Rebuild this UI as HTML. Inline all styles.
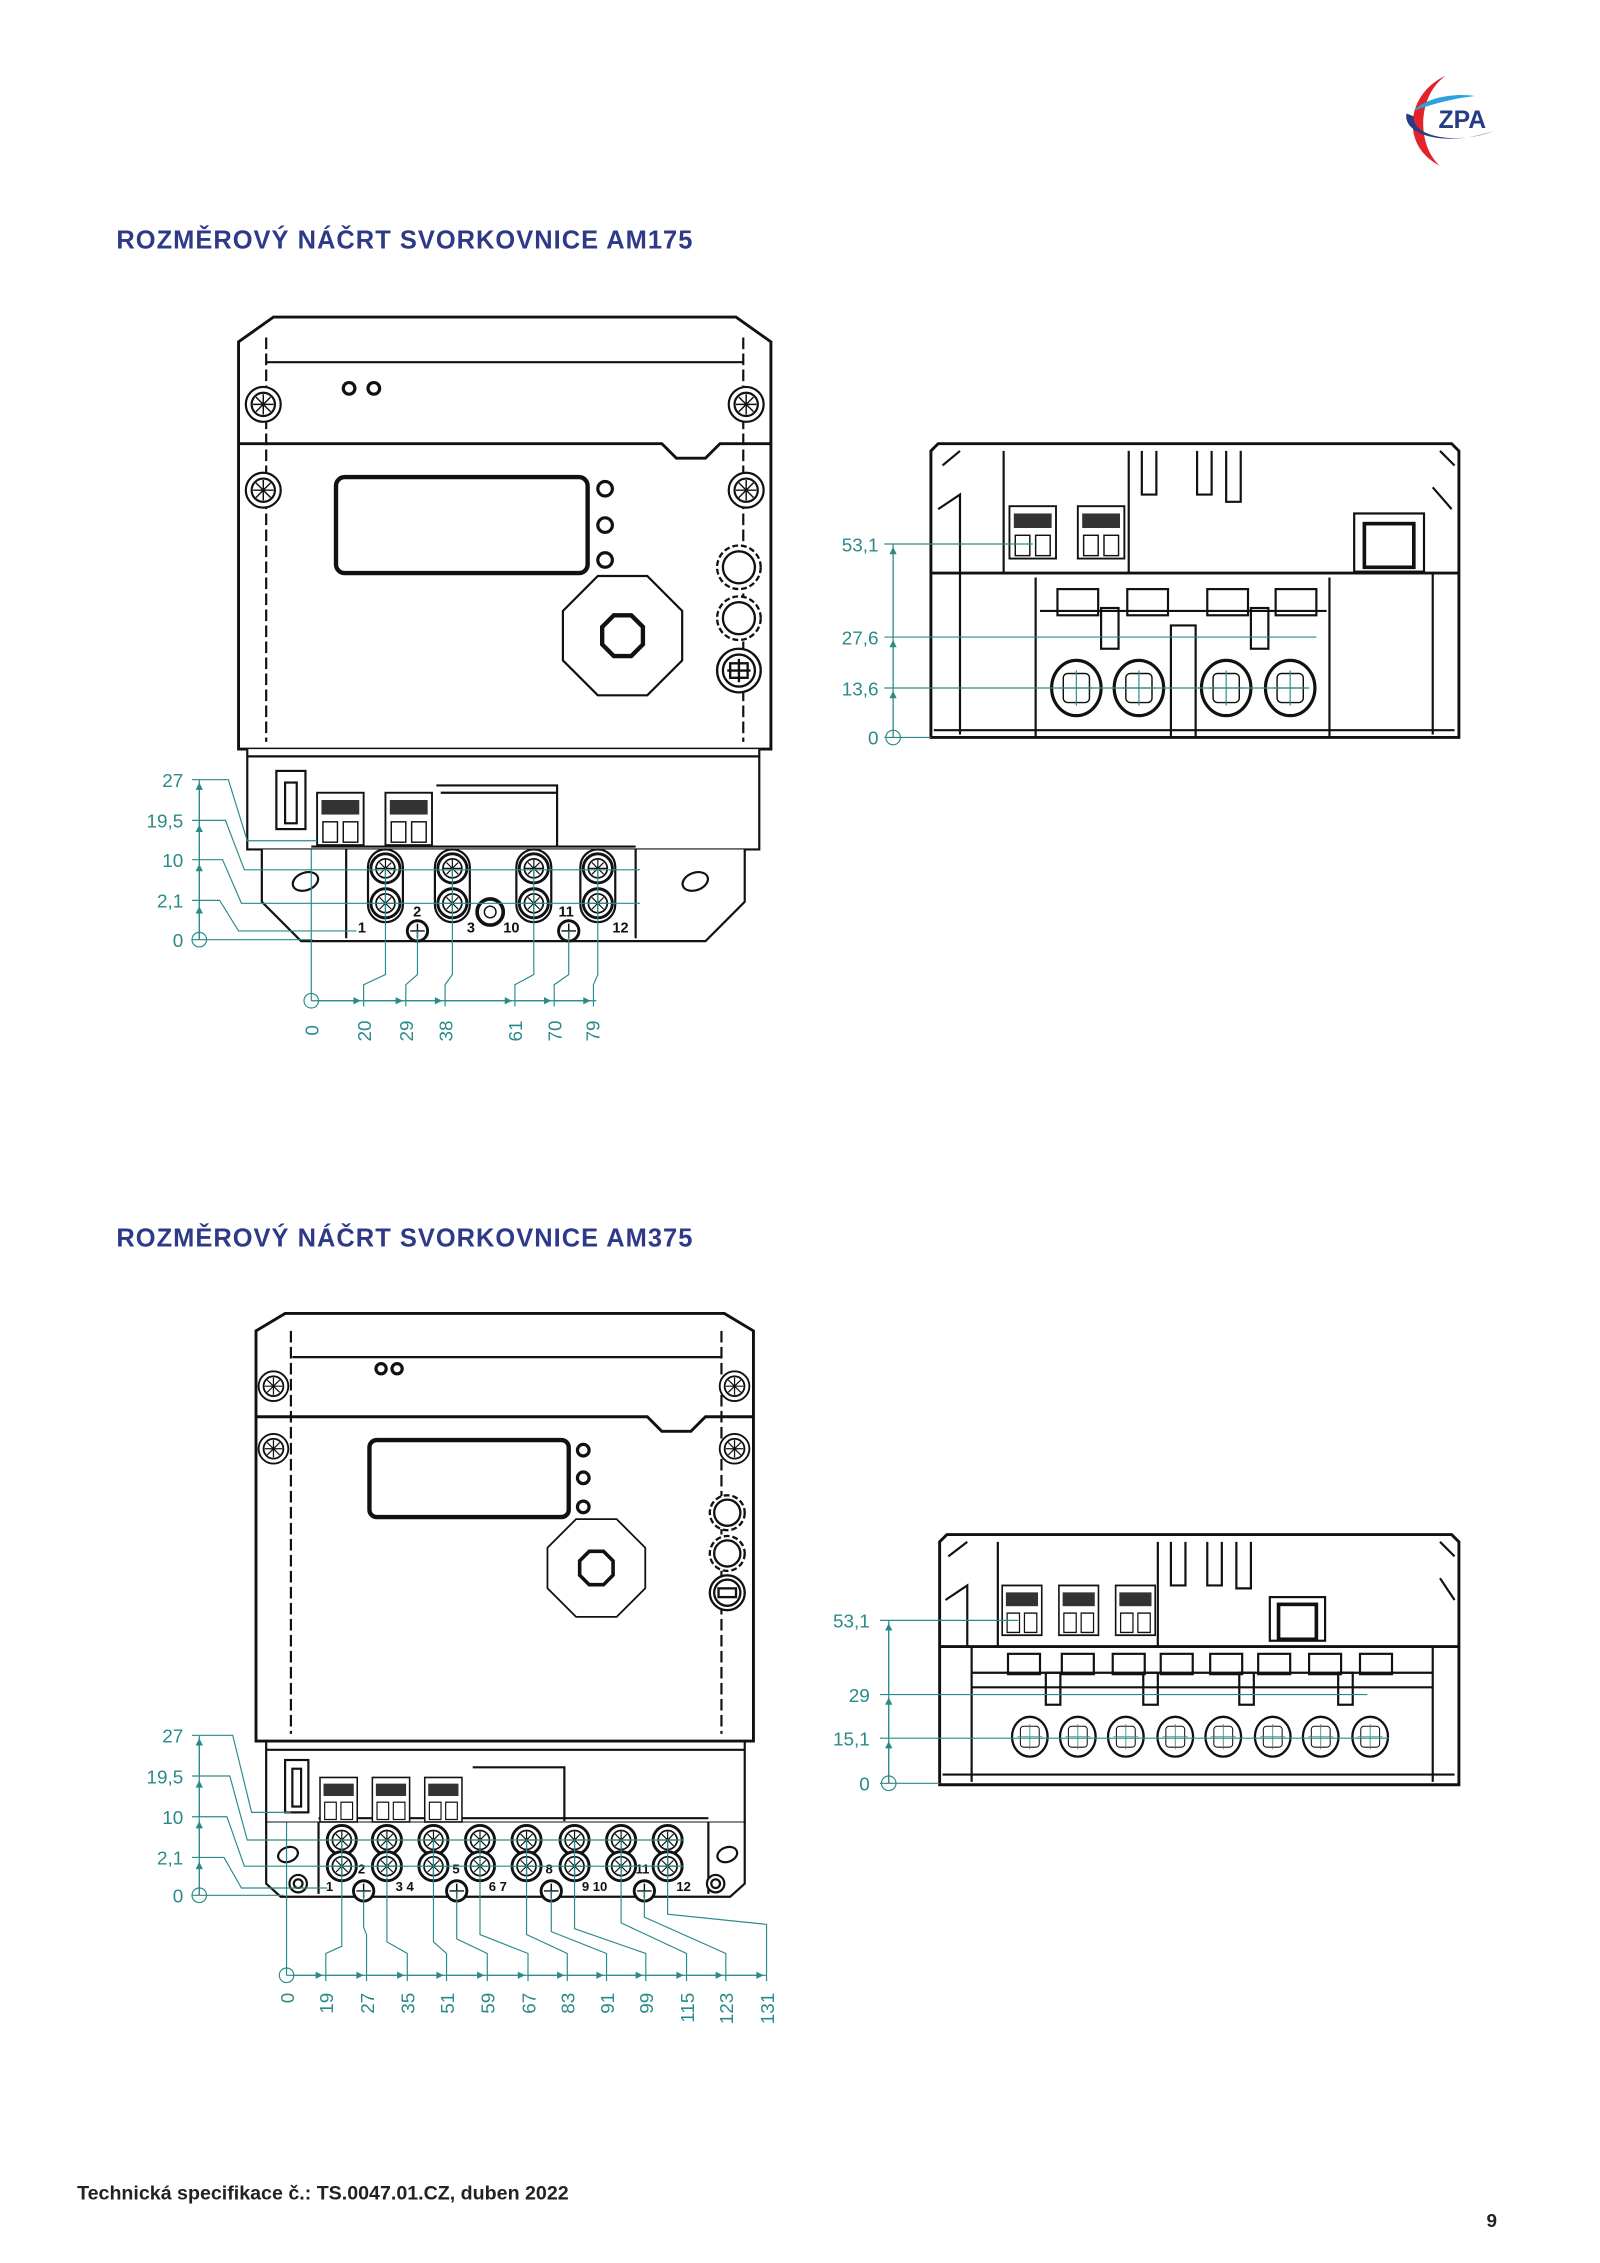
<!DOCTYPE html>
<html><head><meta charset="utf-8"><style>
html,body{margin:0;padding:0;background:#fff;}
svg{display:block;}
</style></head><body>
<svg width="1600" height="2263" viewBox="0 0 1100 1555.8" xmlns="http://www.w3.org/2000/svg" font-family="Liberation Sans, sans-serif">
<defs>
<marker id="ar" viewBox="0 0 10 10" refX="10" refY="5" markerWidth="7" markerHeight="5" orient="auto-start-reverse" markerUnits="userSpaceOnUse"><path d="M0,0L10,5L0,10z" fill="#2a8a8a"/></marker>
<g id="scr"><circle r="12" fill="#fff" stroke="#111" stroke-width="1.5"/><circle r="8" fill="none" stroke="#111" stroke-width="1.5"/><path d="M-7,0H7M0,-7V7M-5,-5L5,5M-5,5L5,-5" stroke="#111" stroke-width="1"/></g>
<g id="term"><circle r="10" fill="#fff" stroke="#111" stroke-width="2"/><circle r="6.5" fill="none" stroke="#111" stroke-width="1.2"/><path d="M-6,0H6M0,-6V6M-4,-4L4,4M-4,4L4,-4" stroke="#111" stroke-width="0.8"/></g>
<g id="sterm"><circle r="7" fill="#fff" stroke="#111" stroke-width="2"/><path d="M-5,0H5M0,-5V5" stroke="#111" stroke-width="1"/></g>
<g id="oct"><polygon points="-17,-41 17,-41 41,-17 41,17 17,41 -17,41 -41,17 -41,-17" fill="#fff" stroke="#111" stroke-width="1.5"/><polygon points="-6,-14 6,-14 14,-6 14,6 6,14 -6,14 -14,6 -14,-6" fill="none" stroke="#111" stroke-width="3"/></g>
<g id="conn"><rect x="0" y="0" width="32" height="36" fill="#fff" stroke="#111" stroke-width="1.3"/><rect x="3" y="5" width="26" height="10" fill="#333"/><rect x="4" y="20" width="10" height="14" fill="none" stroke="#111"/><rect x="18" y="20" width="10" height="14" fill="none" stroke="#111"/></g>
<g id="hole"><ellipse rx="17" ry="19" fill="#fff" stroke="#111" stroke-width="2.2"/><rect x="-9" y="-10" width="18" height="20" rx="3" fill="none" stroke="#111"/><path d="M-12,0H12M0,-12V12" stroke="#2a8a8a" stroke-width="0.8"/></g>
</defs>

<!-- Logo -->
<g transform="translate(992,82)">
<path d="M2,-30 C-25,-18 -30,18 -2,32 C-18,18 -18,-16 2,-30Z" fill="#e2232a"/>
<path d="M-25,-4 C-28,10 0,20 35,8 C10,18 -22,12 -20,-2Z" fill="#263c86"/>
<path d="M-20,-6 C-10,-16 10,-18 22,-16 C5,-14 -8,-10 -20,-6Z" fill="#2aa3dd"/>
<text x="-3" y="6" font-size="17" font-weight="bold" fill="#263c86">ZPA</text>
</g>

<text x="80" y="171" font-size="17.5" font-weight="bold" fill="#2e3a87" textLength="396">ROZMĚROVÝ NÁČRT SVORKOVNICE AM175</text>
<text x="80" y="857" font-size="17.5" font-weight="bold" fill="#2e3a87" textLength="396">ROZMĚROVÝ NÁČRT SVORKOVNICE AM375</text>

<!-- ===== Top meter AM175 ===== -->
<g stroke="#111" fill="none" stroke-width="1.5">
<path d="M164,235 L188,218 L506,218 L530,235 L530,515 L164,515 Z" fill="#fff" stroke-width="2"/>
<path d="M183,249 H511"/><path d="M164,305 H455 L465,315 H485 L495,305 H530" stroke-width="2"/>
<path d="M183,232 V510 M511,232 V510" stroke-dasharray="8,3"/>
<rect x="231" y="328" width="173" height="66" rx="6" stroke-width="3"/>
<path d="M170,515 V584 H522 V515" fill="#fff"/>
<path d="M170,520 H522"/>
<path d="M180,584 V620 L207,647 H485 L512,620 V584" fill="#fff"/>
<path d="M238,584 V645 M437,584 V645"/>
<rect x="190" y="530" width="20" height="40"/>
<rect x="196" y="538" width="8" height="28"/>
<path d="M300,540 H383 V582 M303,545 H383"/>
<path d="M214,582 H437"/>
</g>
<g stroke="#111" fill="#fff" stroke-width="2.2">
<circle cx="240" cy="267" r="4"/><circle cx="257" cy="267" r="4"/>
<circle cx="416" cy="336" r="5"/><circle cx="416" cy="361" r="5"/><circle cx="416" cy="385" r="5"/>
</g>
<use href="#scr" x="181" y="278"/><use href="#scr" x="513" y="278"/><use href="#scr" x="181" y="337"/><use href="#scr" x="513" y="337"/>
<use href="#oct" x="428" y="437"/>
<g fill="#fff" stroke="#111" stroke-width="1.6"><circle cx="508" cy="390" r="15" stroke-dasharray="4,2"/><circle cx="508" cy="390" r="11"/><circle cx="508" cy="425" r="15" stroke-dasharray="4,2"/><circle cx="508" cy="425" r="11"/><circle cx="508" cy="461" r="15"/><circle cx="508" cy="461" r="11"/><path d="M500,461H516M508,453V469M502,456H514V466H502Z" fill="none"/></g>
<use href="#conn" x="218" y="545"/><use href="#conn" x="265" y="545"/>
<g fill="#fff" stroke="#111" stroke-width="1.5"><ellipse cx="210" cy="606" rx="9" ry="6" transform="rotate(-20 210 606)"/><ellipse cx="478" cy="606" rx="9" ry="6" transform="rotate(-20 478 606)"/></g>
<g fill="none" stroke="#111" stroke-width="1.5"><rect x="253" y="584" width="24" height="50" rx="12"/><rect x="299" y="584" width="24" height="50" rx="12"/><rect x="355" y="584" width="24" height="50" rx="12"/><rect x="399" y="584" width="24" height="50" rx="12"/></g>
<use href="#term" x="265" y="597"/><use href="#term" x="265" y="621"/>
<use href="#term" x="311" y="597"/><use href="#term" x="311" y="621"/>
<use href="#term" x="367" y="597"/><use href="#term" x="367" y="621"/>
<use href="#term" x="411" y="597"/><use href="#term" x="411" y="621"/>
<use href="#sterm" x="287" y="640"/><use href="#sterm" x="391" y="640"/>
<circle cx="337" cy="627" r="9" fill="#fff" stroke="#111" stroke-width="2.5"/><circle cx="337" cy="627" r="4" fill="none" stroke="#111"/>
<g font-size="10" font-weight="bold" fill="#111"><text x="246" y="641">1</text><text x="284" y="630">2</text><text x="321" y="641">3</text><text x="346" y="641">10</text><text x="384" y="630">11</text><text x="421" y="641">12</text></g>
<!-- dims top-left -->
<g stroke="#2a8a8a" fill="none" stroke-width="0.8">
<path d="M137,646 V536" />
<path d="M137,646 V623" marker-end="url(#ar)"/><path d="M137,623 V594" marker-end="url(#ar)"/><path d="M137,594 V567" marker-end="url(#ar)"/><path d="M137,567 V538" marker-end="url(#ar)"/>
<path d="M132,536 H157 L170,578 H218"/><path d="M132,564 H155 L168,598 H440"/><path d="M132,591 H153 L166,621 H440"/><path d="M132,619 H151 L164,640 H245"/><path d="M132,646 H215"/>
<circle cx="137" cy="646" r="5"/>
<path d="M214,584 V688"/><circle cx="214" cy="688" r="5"/>
<path d="M214,688 H410"/>
<path d="M218,688 H248" marker-end="url(#ar)"/><path d="M250,688 H277" marker-end="url(#ar)"/><path d="M279,688 H304" marker-end="url(#ar)"/><path d="M306,688 H352" marker-end="url(#ar)"/><path d="M354,688 H379" marker-end="url(#ar)"/><path d="M381,688 H406" marker-end="url(#ar)"/>
<path d="M250,692 V677 L265,670 V597"/><path d="M279,692 V677 L287,670 V640"/><path d="M306,692 V677 L311,670 V597"/><path d="M354,692 V677 L367,670 V597"/><path d="M381,692 V677 L391,670 V640"/><path d="M408,692 V677 L411,670 V597"/>
</g>
<g font-size="13" fill="#2a8a8a" text-anchor="end"><text x="126" y="541">27</text><text x="126" y="569">19,5</text><text x="126" y="596">10</text><text x="126" y="624">2,1</text><text x="126" y="651">0</text></g>
<g font-size="13" fill="#2a8a8a">
<text transform="translate(219,712) rotate(-90)">0</text><text transform="translate(255,716) rotate(-90)">20</text><text transform="translate(284,716) rotate(-90)">29</text><text transform="translate(311,716) rotate(-90)">38</text><text transform="translate(359,716) rotate(-90)">61</text><text transform="translate(386,716) rotate(-90)">70</text><text transform="translate(412,716) rotate(-90)">79</text>
</g>

<!-- ===== Top right view ===== -->
<g stroke="#111" fill="none" stroke-width="1.5">
<path d="M640,310 L645,305 H998 L1003,310 V507 H640 Z" fill="#fff" stroke-width="2"/>
<path d="M648,320 L660,310 M990,310 L1000,320 M645,350 L660,340 V394 M985,335 L998,350"/>
<path d="M640,394 H1003" stroke-width="2"/>
<path d="M660,394 V505 M985,394 V505"/>
<path d="M690,310 V394 M776,310 V394"/>
<path d="M785,310 V340 H795 V310 M823,310 V340 H833 V310 M843,310 V345 H853 V310"/>
<path d="M712,397 V507 M914,397 V507 M715,420 H912"/>
<path d="M805,430 V507 H822 V430 Z"/>
<rect x="931" y="353" width="48" height="40"/><rect x="938" y="360" width="34" height="30" stroke-width="2.5"/>
<rect x="727" y="405" width="28" height="18"/><rect x="775" y="405" width="28" height="18"/><rect x="830" y="405" width="28" height="18"/><rect x="877" y="405" width="28" height="18"/>
<rect x="757" y="418" width="12" height="28"/><rect x="860" y="418" width="12" height="28"/>
<path d="M642,502 H1000"/>
</g>
<use href="#conn" x="694" y="348"/><use href="#conn" x="741" y="348"/>
<use href="#hole" x="740" y="473"/><use href="#hole" x="783" y="473"/><use href="#hole" x="843" y="473"/><use href="#hole" x="887" y="473"/>
<g stroke="#2a8a8a" fill="none" stroke-width="0.8">
<path d="M614,507 V374"/>
<path d="M614,507 V475" marker-end="url(#ar)"/><path d="M614,473 V440" marker-end="url(#ar)"/><path d="M614,438 V376" marker-end="url(#ar)"/>
<path d="M608,374 H710"/><path d="M608,438 H905"/><path d="M608,473 H900"/><path d="M608,507 H640"/>
<circle cx="614" cy="507" r="5"/>
</g>
<g font-size="13" fill="#2a8a8a" text-anchor="end"><text x="604" y="379">53,1</text><text x="604" y="443">27,6</text><text x="604" y="478">13,6</text><text x="604" y="512">0</text></g>

<!-- ===== Bottom meter AM375 ===== -->
<g stroke="#111" fill="none" stroke-width="1.5">
<path d="M176,915 L196,903 L498,903 L518,915 L518,1197 L176,1197 Z" fill="#fff" stroke-width="2"/>
<path d="M201,933 H496"/><path d="M176,974 H445 L455,984 H475 L485,974 H518" stroke-width="2"/>
<path d="M200,915 V1192 M496,915 V1192" stroke-dasharray="8,3"/>
<rect x="254" y="990" width="137" height="53" rx="5" stroke-width="3"/>
<path d="M183,1198 V1253 H512 V1198" fill="#fff"/>
<path d="M183,1203 H512"/>
<path d="M183,1253 V1295 L193,1304 H502 L512,1295 V1253" fill="#fff"/>
<path d="M219,1253 V1302 M487,1253 V1302"/>
<rect x="196" y="1210" width="16" height="36"/><rect x="201" y="1216" width="6" height="26"/>
<path d="M325,1215 H388 V1252"/>
<path d="M219,1250 H487"/>
</g>
<g stroke="#111" fill="#fff" stroke-width="2.2">
<circle cx="262" cy="941" r="3.5"/><circle cx="273" cy="941" r="3.5"/>
<circle cx="401" cy="997" r="4"/><circle cx="401" cy="1016" r="4"/><circle cx="401" cy="1036" r="4"/>
</g>
<use href="#scr" transform="translate(188,953) scale(0.85)"/><use href="#scr" transform="translate(505,953) scale(0.85)"/><use href="#scr" transform="translate(188,996) scale(0.85)"/><use href="#scr" transform="translate(505,996) scale(0.85)"/>
<use href="#oct" transform="translate(410,1078) scale(0.82)"/>
<g fill="#fff" stroke="#111" stroke-width="1.6"><circle cx="500" cy="1040" r="12" stroke-dasharray="4,2"/><circle cx="500" cy="1040" r="9"/><circle cx="500" cy="1068" r="12" stroke-dasharray="4,2"/><circle cx="500" cy="1068" r="9"/><circle cx="500" cy="1095" r="12"/><circle cx="500" cy="1095" r="9"/><rect x="494" y="1092" width="12" height="6" fill="none"/></g>
<use href="#conn" transform="translate(220,1222) scale(0.8,0.85)"/><use href="#conn" transform="translate(256,1222) scale(0.8,0.85)"/><use href="#conn" transform="translate(292,1222) scale(0.8,0.85)"/>
<g fill="#fff" stroke="#111" stroke-width="1.5"><ellipse cx="198" cy="1275" rx="7" ry="5" transform="rotate(-20 198 1275)"/><ellipse cx="500" cy="1275" rx="7" ry="5" transform="rotate(-20 500 1275)"/><circle cx="205" cy="1295" r="6"/><circle cx="205" cy="1295" r="3"/><circle cx="492" cy="1295" r="6"/><circle cx="492" cy="1295" r="3"/></g>
<g>
<use href="#term" x="235" y="1265"/><use href="#term" x="235" y="1283"/>
<use href="#term" x="266" y="1265"/><use href="#term" x="266" y="1283"/>
<use href="#term" x="298" y="1265"/><use href="#term" x="298" y="1283"/>
<use href="#term" x="330" y="1265"/><use href="#term" x="330" y="1283"/>
<use href="#term" x="362" y="1265"/><use href="#term" x="362" y="1283"/>
<use href="#term" x="395" y="1265"/><use href="#term" x="395" y="1283"/>
<use href="#term" x="427" y="1265"/><use href="#term" x="427" y="1283"/>
<use href="#term" x="459" y="1265"/><use href="#term" x="459" y="1283"/>
<use href="#sterm" x="250" y="1300"/><use href="#sterm" x="314" y="1300"/><use href="#sterm" x="379" y="1300"/><use href="#sterm" x="443" y="1300"/>
</g>
<g font-size="9" font-weight="bold" fill="#111"><text x="224" y="1300">1</text><text x="246" y="1288">2</text><text x="272" y="1300">3 4</text><text x="311" y="1288">5</text><text x="336" y="1300">6 7</text><text x="375" y="1288">8</text><text x="400" y="1300">9 10</text><text x="437" y="1288">11</text><text x="465" y="1300">12</text></g>
<g stroke="#2a8a8a" fill="none" stroke-width="0.8">
<path d="M137,1303 V1193"/>
<path d="M137,1303 V1280" marker-end="url(#ar)"/><path d="M137,1277 V1252" marker-end="url(#ar)"/><path d="M137,1249 V1224" marker-end="url(#ar)"/><path d="M137,1221 V1195" marker-end="url(#ar)"/>
<path d="M132,1193 H160 L173,1246 H200"/><path d="M132,1221 H158 L170,1265 H470"/><path d="M132,1249 H156 L168,1283 H470"/><path d="M132,1277 H154 L166,1298 H225"/><path d="M132,1303 H195"/>
<circle cx="137" cy="1303" r="5"/>
<path d="M197,1253 V1358"/><circle cx="197" cy="1358" r="5"/>
<path d="M197,1358 H527"/>
<path d="M201,1358 H222" marker-end="url(#ar)"/><path d="M224,1358 H250" marker-end="url(#ar)"/><path d="M252,1358 H278" marker-end="url(#ar)"/><path d="M280,1358 H305" marker-end="url(#ar)"/><path d="M307,1358 H333" marker-end="url(#ar)"/><path d="M335,1358 H361" marker-end="url(#ar)"/><path d="M363,1358 H388" marker-end="url(#ar)"/><path d="M390,1358 H415" marker-end="url(#ar)"/><path d="M417,1358 H442" marker-end="url(#ar)"/><path d="M444,1358 H470" marker-end="url(#ar)"/><path d="M472,1358 H497" marker-end="url(#ar)"/><path d="M499,1358 H525" marker-end="url(#ar)"/>
<path d="M224,1362 V1343 L235,1338 V1265"/><path d="M252,1362 V1330 L250,1325 V1300"/><path d="M280,1362 V1343 L266,1335 V1265"/><path d="M307,1362 V1343 L298,1335 V1265"/><path d="M335,1362 V1343 L314,1333 V1300"/><path d="M363,1362 V1343 L330,1330 V1265"/><path d="M390,1362 V1343 L362,1330 V1265"/><path d="M417,1362 V1343 L379,1328 V1300"/><path d="M444,1362 V1343 L395,1326 V1265"/><path d="M472,1362 V1343 L427,1322 V1265"/><path d="M499,1362 V1343 L443,1318 V1300"/><path d="M527,1362 V1323 L459,1316 V1265"/>
</g>
<g font-size="13" fill="#2a8a8a" text-anchor="end"><text x="126" y="1198">27</text><text x="126" y="1226">19,5</text><text x="126" y="1254">10</text><text x="126" y="1282">2,1</text><text x="126" y="1308">0</text></g>
<g font-size="13" fill="#2a8a8a" text-anchor="end">
<text transform="translate(202,1370) rotate(-90)">0</text><text transform="translate(229,1370) rotate(-90)">19</text><text transform="translate(257,1370) rotate(-90)">27</text><text transform="translate(285,1370) rotate(-90)">35</text><text transform="translate(312,1370) rotate(-90)">51</text><text transform="translate(340,1370) rotate(-90)">59</text><text transform="translate(368,1370) rotate(-90)">67</text><text transform="translate(395,1370) rotate(-90)">83</text><text transform="translate(422,1370) rotate(-90)">91</text><text transform="translate(449,1370) rotate(-90)">99</text><text transform="translate(477,1370) rotate(-90)">115</text><text transform="translate(504,1370) rotate(-90)">123</text><text transform="translate(532,1370) rotate(-90)">131</text>
</g>

<!-- ===== Bottom right view ===== -->
<g stroke="#111" fill="none" stroke-width="1.5">
<path d="M646,1060 L651,1055 H998 L1003,1060 V1227 H646 Z" fill="#fff" stroke-width="2"/>
<path d="M652,1070 L665,1060 M990,1060 L1000,1070 M650,1100 L665,1090 V1132 M990,1085 L1000,1100"/>
<path d="M646,1132 H1003" stroke-width="2"/>
<path d="M668,1132 V1225 M985,1132 V1225"/>
<path d="M686,1060 V1132 M796,1060 V1132"/>
<path d="M805,1060 V1090 H815 V1060 M830,1060 V1090 H840 V1060 M850,1060 V1092 H860 V1060"/>
<path d="M668,1150 H985 M668,1160 H985"/>
<rect x="873" y="1098" width="38" height="30"/><rect x="879" y="1103" width="26" height="24" stroke-width="2.5"/>
<rect x="693" y="1137" width="22" height="14"/><rect x="730" y="1137" width="22" height="14"/><rect x="765" y="1137" width="22" height="14"/><rect x="798" y="1137" width="22" height="14"/><rect x="832" y="1137" width="22" height="14"/><rect x="865" y="1137" width="22" height="14"/><rect x="900" y="1137" width="22" height="14"/><rect x="935" y="1137" width="22" height="14"/>
<rect x="719" y="1150" width="10" height="22"/><rect x="786" y="1150" width="10" height="22"/><rect x="852" y="1150" width="10" height="22"/><rect x="920" y="1150" width="10" height="22"/>
<path d="M648,1220 H1000"/>
</g>
<use href="#conn" transform="translate(689,1090) scale(0.85,0.95)"/><use href="#conn" transform="translate(728,1090) scale(0.85,0.95)"/><use href="#conn" transform="translate(767,1090) scale(0.85,0.95)"/>
<g>
<use href="#hole" transform="translate(708,1194) scale(0.72)"/><use href="#hole" transform="translate(741,1194) scale(0.72)"/><use href="#hole" transform="translate(774,1194) scale(0.72)"/><use href="#hole" transform="translate(808,1194) scale(0.72)"/><use href="#hole" transform="translate(841,1194) scale(0.72)"/><use href="#hole" transform="translate(875,1194) scale(0.72)"/><use href="#hole" transform="translate(908,1194) scale(0.72)"/><use href="#hole" transform="translate(942,1194) scale(0.72)"/>
</g>
<g stroke="#2a8a8a" fill="none" stroke-width="0.8">
<path d="M611,1226 V1114"/>
<path d="M611,1226 V1197" marker-end="url(#ar)"/><path d="M611,1195 V1167" marker-end="url(#ar)"/><path d="M611,1165 V1116" marker-end="url(#ar)"/>
<path d="M605,1114 H700"/><path d="M605,1165 H940"/><path d="M605,1195 H955"/><path d="M605,1226 H646"/>
<circle cx="611" cy="1226" r="5"/>
</g>
<g font-size="13" fill="#2a8a8a" text-anchor="end"><text x="598" y="1119">53,1</text><text x="598" y="1170">29</text><text x="598" y="1200">15,1</text><text x="598" y="1231">0</text></g>

<text x="53" y="1512" font-size="13.5" font-weight="bold" fill="#222">Technická specifikace č.: TS.0047.01.CZ, duben 2022</text>
<text x="1022" y="1531" font-size="13" font-weight="bold" fill="#222">9</text>
</svg>
</body></html>
